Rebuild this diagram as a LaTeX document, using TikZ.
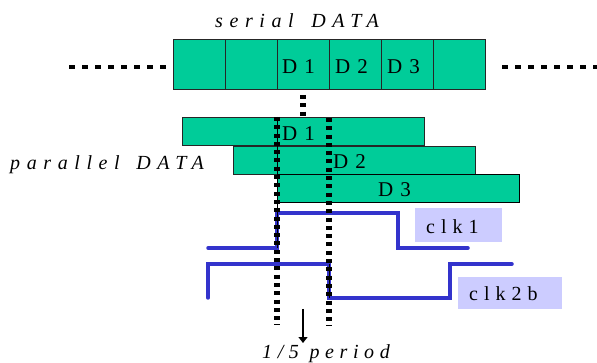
\documentclass[tikz,border=0pt]{standalone}
\usepackage{fontspec}
\setmainfont{Liberation Serif}
\newfontfamily\lsA[LetterSpace=33]{Liberation Serif}
\newfontfamily\lsD[LetterSpace=28]{Liberation Serif}
\newfontfamily\lsB[LetterSpace=30]{Liberation Serif}
\newfontfamily\lsC[LetterSpace=8]{Liberation Serif}
\usetikzlibrary{arrows.meta}
\definecolor{dgreen}{HTML}{00CC99}
\definecolor{clkblue}{HTML}{3333CC}
\definecolor{lav}{HTML}{CCCCFF}
\begin{document}
\begin{tikzpicture}[x=1pt,y=-1pt,
  cell/.style={draw=black!85,line width=0.9pt,fill=dgreen,anchor=north west,inner sep=0pt,minimum width=52pt,minimum height=50pt},
  pbox/.style={draw=black!85,line width=0.9pt,fill=dgreen,anchor=north west,inner sep=0pt,minimum width=242pt,minimum height=28.5pt},
  lavbox/.style={fill=lav,anchor=north west,inner sep=0pt},
  itlab/.style={font=\lsA\itshape\fontsize{20}{22}\selectfont,inner sep=0pt,anchor=base west},
  clklab/.style={font=\lsB\fontsize{20}{22}\selectfont,inner sep=0pt,anchor=base west},
  dlab/.style={font=\lsC\fontsize{21}{23}\selectfont,inner sep=0pt,anchor=base west},
  hdots/.style={line width=4pt,dash pattern=on 5.5pt off 7.5pt},
  vdots/.style={line width=6.5pt,dash pattern=on 4pt off 4.3pt},
  clk/.style={draw=clkblue,line width=3.5pt,line cap=round},
  thin/.style={line width=0.8pt}]
\useasboundingbox (0,0) rectangle (597,363);

% serial data
\node[itlab] (serial) at (215,28) {serial\hspace{6pt} DATA};
\node[cell] (c1) at (173,39) {};
\node[cell] (c2) at (225,39) {};
\node[cell] (c3) at (277,39) {};
\node[cell] (c4) at (329,39) {};
\node[cell] (c5) at (381,39) {};
\node[cell] (c6) at (433,39) {};
\node[dlab] (s1) at (282,74) {D 1};
\node[dlab] (s2) at (335,74) {D 2};
\node[dlab] (s3) at (387,74) {D 3};

\coordinate (lA) at (69,67);
\coordinate (lB) at (167,67);
\coordinate (rA) at (502,67);
\coordinate (rB) at (600,67);
\draw[hdots] (lA) -- (lB);
\draw[hdots] (rA) -- (rB);

\coordinate (sA) at (303,95);
\coordinate (sB) at (303,118);
\draw[vdots] (sA) -- (sB);

% parallel data
\node[itlab] (parallel) at (10,170) {parallel\hspace{5pt} DATA};
\node[pbox] (p1) at (182,117) {};
\node[pbox] (p2) at (233,146) {};
\node[pbox,draw=black] (p3) at (277,174) {};
\node[dlab] (t1) at (282,141) {D 1};
\node[dlab] (t2) at (333,169) {D 2};
\node[dlab] (t3) at (378,197) {D 3};

% clocks
\node[lavbox,minimum width=87pt,minimum height=34pt] (b1) at (415,208) {};
\node[lavbox,minimum width=104pt,minimum height=32pt] (b2) at (458,277) {};
\node[clklab] (k1) at (426,234) {clk1};
\node[clklab] (k2) at (469,301) {clk2b};

\draw[clk] (208,248) -- (277,248) -- (277,213) -- (398,213) -- (398,248) -- (468,248);
\draw[clk] (208,298) -- (208,264) -- (329,264) -- (329,298) -- (450,298) -- (450,264) -- (512,264);

% dotted sampling lines
\coordinate (vA) at (277,117);
\coordinate (vB) at (277,325);
\coordinate (wA) at (329,118);
\coordinate (wB) at (329,326);
\draw[vdots] (vA) -- (vB);
\draw[vdots] (wA) -- (wB);
\draw[thin] (277,117) -- (277,248);
\draw[thin] (329,264) -- (329,298);

% period arrow
\coordinate (aA) at (303,309);
\node[itlab,font=\lsD\itshape\fontsize{20}{22}\selectfont] (per) at (262,358) {1/5 period};
\coordinate (aB) at (303,343);
\draw[line width=1.3pt,-{Triangle[width=9pt,length=6pt]}] (aA) -- (aB);
\end{tikzpicture}
\end{document}
